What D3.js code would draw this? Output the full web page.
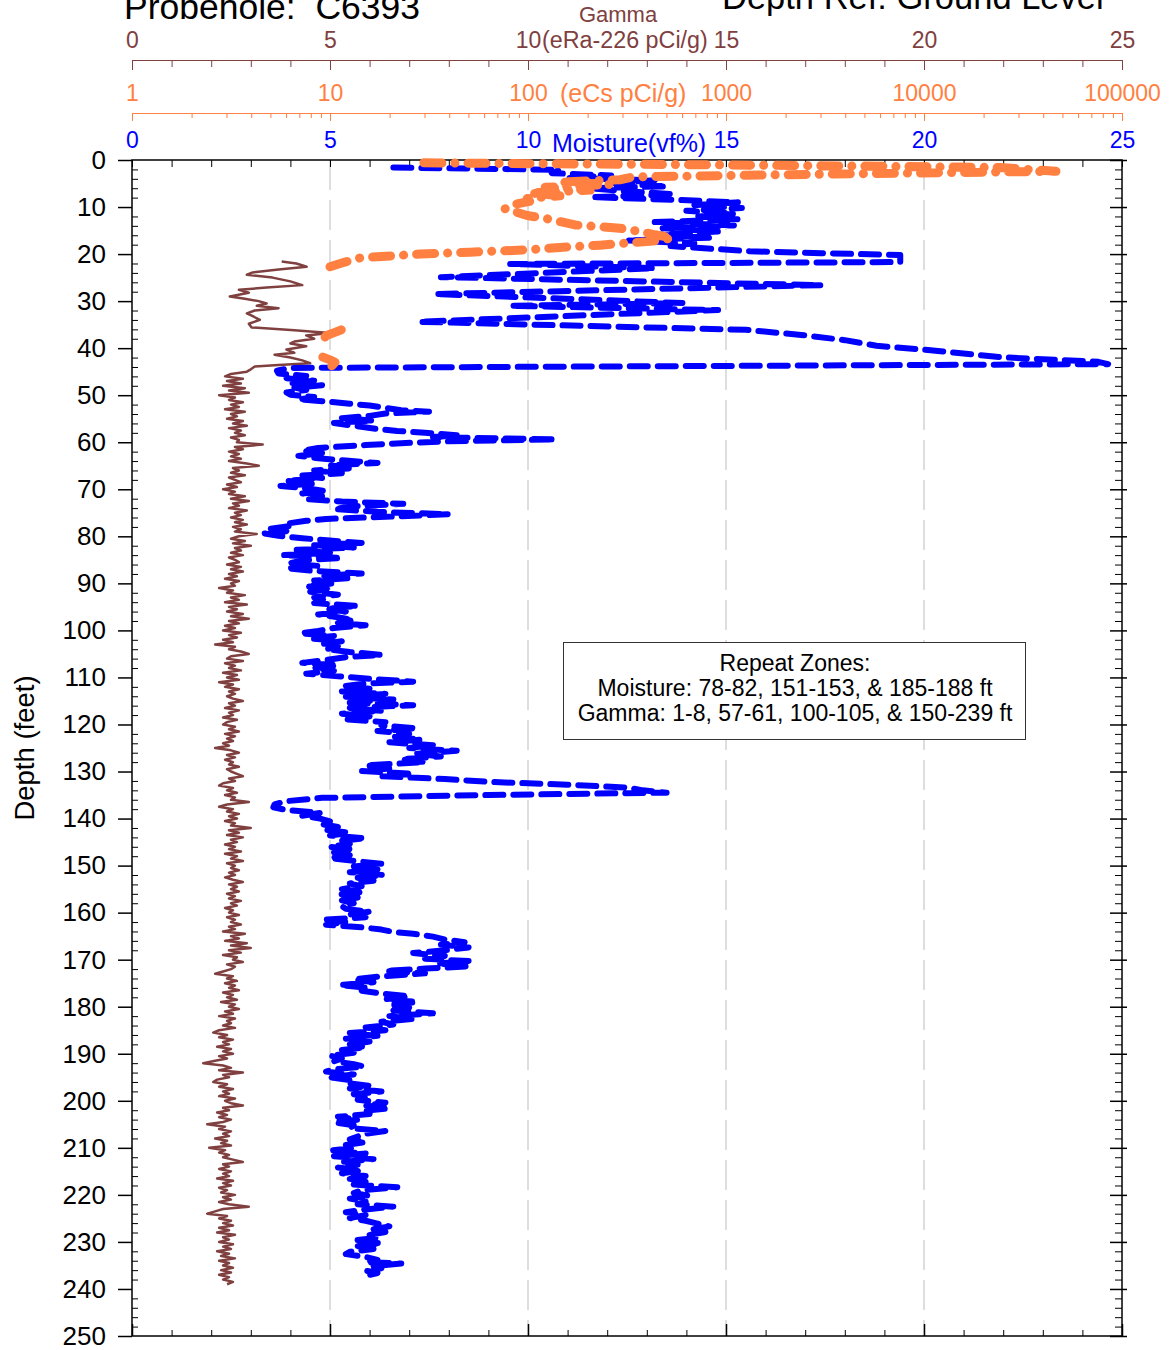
<!DOCTYPE html>
<html>
<head>
<meta charset="utf-8">
<script src="https://cdn.jsdelivr.net/npm/d3@7"></script>
<style>
body { margin: 0; background: #fff; }
svg { display: block; }
</style>
</head>
<body>
<script>

//****************************************************************************************************************************//
// Data  (depth in feet, value)

var moisture = [
	[1.6,6.6],[1.8,8.4],[2.1,10.8],[2.8,10.6],[3.3,12.1],[3.8,11.0],[4.3,13.2],[4.9,12.0],[5.6,13.5],[6.0,11.5],
	[6.7,12.6],[7.3,13.7],[7.9,11.6],[8.5,13.8],[9.0,15.3],[9.6,14.2],[10.2,15.4],[10.8,14.0],[11.4,15.2],[12.0,14.3],
	[12.6,15.3],[13.2,13.2],[13.9,15.2],[14.5,13.4],[15.2,14.8],[15.9,13.3],[16.5,14.6],[17.1,12.5],[17.7,14.2],[18.3,13.6],
	[18.9,14.7],[19.4,15.6],[19.8,17.4],[20.2,19.4],[21.7,19.4],[22.1,9.55],[23.0,13.2],[24.9,7.8],[26.6,17.4],[28.5,7.65],
	[30.4,13.9],[31.0,9.55],[31.9,14.8],[34.4,7.25],[36.1,15.5],[37.2,16.9],[38.3,18.0],[39.5,18.8],[40.4,20.1],[41.9,21.9],
	[42.9,24.4],[43.4,24.65],[44.2,4.0],[44.8,3.66],
	[45.4,3.7],[45.9,4.4],[46.4,3.9],[46.9,4.6],[47.4,4.0],[47.9,4.8],[48.4,4.1],[48.9,4.4],[49.4,3.9],[49.9,4.0],
	[50.4,4.6],[50.9,4.2],[51.4,5.0],[51.8,5.5],[52.2,6.0],[52.7,6.4],[53.2,6.8],[53.5,7.5],[53.9,6.4],[54.4,6.0],
	[54.9,5.3],[55.4,6.1],[55.9,5.1],[56.5,5.6],[57.2,6.2],[57.6,6.7],[58.0,7.4],[58.5,8.2],[58.9,7.6],[59.4,10.7],
	[59.8,8.0],[60.2,6.8],[60.6,5.9],[61.2,4.7],[61.8,4.3],[62.3,4.8],[62.9,4.2],[63.4,4.7],[63.9,5.4],[64.4,6.2],
	[64.9,5.0],[65.5,5.6],[66.0,4.6],[66.6,5.3],[67.1,4.2],[67.6,4.8],[68.2,3.9],[68.8,4.6],[69.3,3.75],[69.8,4.4],
	[70.4,4.9],[70.9,4.3],[71.5,4.8],[72.1,4.4],[72.6,5.3],[73.1,6.85],[73.6,5.6],[74.2,5.1],[74.8,6.2],[75.3,8.0],
	[75.8,6.6],[76.3,4.9],[76.7,4.4],[77.3,3.9],[77.8,4.0],[78.4,3.5],[78.9,3.9],[79.4,3.35],[79.9,3.7],[80.4,4.3],
	[80.9,5.0],[81.4,5.8],[81.9,4.6],[82.4,5.6],[82.9,4.1],[83.5,5.0],[84.0,3.8],[84.6,5.3],[85.1,4.3],[85.7,4.0],
	[86.3,4.7],[86.8,3.9],[87.3,4.5],[87.9,5.8],[88.4,4.8],[88.9,5.5],[89.4,4.6],[90.0,5.1],[90.6,4.4],[91.2,5.0],
	[91.8,4.5],[92.4,5.2],[93.0,4.6],[93.6,4.9],[94.2,4.6],[94.8,5.7],[95.4,4.9],[96.0,5.4],[96.6,4.7],[97.2,5.2],
	[97.8,5.6],[98.4,5.2],[98.9,5.9],[99.5,5.1],[100.1,4.7],[100.6,4.25],[101.2,5.1],[101.7,4.5],[102.3,5.3],[102.9,4.8],
	[103.4,5.2],[104.0,4.9],[104.6,5.5],[105.2,6.3],[105.7,5.4],[106.3,4.9],[106.9,4.3],[107.4,5.2],[108.0,4.6],[108.6,5.1],
	[109.2,4.4],[109.8,5.3],[110.4,6.2],[110.9,7.1],[111.3,5.9],[111.8,5.4],[112.4,6.0],[113.0,5.3],[113.5,6.4],[114.1,5.4],
	[114.7,6.6],[115.3,5.4],[115.9,7.1],[116.5,5.5],[117.1,6.3],[117.7,5.3],[118.3,6.0],[118.9,5.4],[119.5,6.4],[120.2,6.3],
	[120.8,7.2],[121.4,6.2],[122.0,7.0],[122.6,6.6],[123.2,7.3],[123.8,6.5],[124.4,7.6],[125.0,7.0],[125.6,8.2],[126.2,7.2],
	[126.8,7.8],[127.4,6.8],[128.0,7.4],[128.7,5.9],[129.3,6.6],[129.9,5.8],[130.5,7.1],[131.0,6.3],[131.6,7.9],[132.2,9.0],
	[132.8,11.0],[133.4,12.5],[134.0,12.9],[134.5,13.5],[135.0,9.0],[135.6,4.8],[136.3,3.9],[137.0,3.6],[137.6,3.57],[138.2,3.9],
	[138.8,4.75],[139.4,4.3],[140.0,4.75],[140.6,5.0],[141.2,4.8],[141.8,5.2],[142.4,4.9],[143.0,5.5],[143.6,5.0],[144.2,5.9],
	[144.8,5.2],[145.4,5.5],[146.0,5.0],[146.6,5.6],[147.2,5.1],[147.8,5.5],[148.4,5.0],[149.0,5.6],[149.6,6.3],[150.2,5.6],
	[150.8,6.2],[151.4,5.5],[152.0,6.35],[152.6,5.7],[153.2,6.1],[153.8,5.5],[154.4,5.8],[155.0,5.3],[155.6,5.8],[156.2,5.2],
	[156.8,5.7],[157.4,5.3],[158.0,5.6],[158.6,5.3],[159.2,5.4],[159.8,6.0],[160.4,5.5],[161.0,5.9],[161.5,4.8],[162.0,5.4],
	[162.6,4.9],[163.1,5.8],[163.6,6.3],[164.1,6.6],[164.5,7.1],[165.1,7.6],[165.7,7.9],[166.3,8.4],[166.8,7.8],[167.4,8.5],
	[168.0,7.9],[168.6,7.1],[169.2,7.9],[169.8,7.4],[170.3,8.5],[170.8,7.7],[171.4,8.5],[171.9,7.4],[172.4,6.4],[172.9,7.4],
	[173.6,6.2],[174.2,5.6],[174.8,6.1],[175.4,5.25],[176.0,6.0],[176.6,5.8],[177.2,6.3],[177.8,7.0],[178.4,6.4],[179.0,7.2],
	[179.6,6.5],[180.2,7.0],[180.8,6.6],[181.4,7.6],[182.0,6.5],[182.6,7.1],[183.2,6.3],[183.8,6.6],[184.4,5.9],[185.0,6.4],
	[185.6,5.5],[186.2,6.2],[186.8,5.4],[187.4,6.0],[188.0,5.5],[188.6,5.9],[189.2,5.3],[189.8,5.6],[190.4,5.0],[191.0,5.3],
	[191.6,5.1],[192.2,5.6],[192.7,5.85],[193.3,5.1],[193.8,4.9],[194.4,5.6],[195.0,5.0],[195.6,5.5],[196.2,5.4],[196.8,6.0],
	[197.4,5.5],[198.0,6.3],[198.6,5.6],[199.2,5.9],[199.8,5.7],[200.4,6.4],[201.0,5.9],[201.6,6.5],[202.2,5.8],[202.8,6.0],
	[203.4,5.2],[204.0,5.7],[204.6,5.1],[205.2,5.6],[205.8,5.5],[206.4,6.4],[207.0,5.9],[207.6,5.7],[208.2,5.5],[208.8,5.9],
	[209.4,5.4],[210.0,5.6],[210.6,5.0],[211.2,5.9],[211.8,5.1],[212.4,6.1],[213.0,5.3],[213.6,5.7],[214.2,5.2],[214.8,5.8],
	[215.4,5.3],[216.0,5.9],[216.6,5.5],[217.2,5.9],[217.8,5.6],[218.4,6.7],[219.0,5.8],[219.6,5.6],[220.2,6.0],[220.8,5.5],
	[221.4,5.9],[222.0,5.7],[222.5,6.6],[223.1,5.9],[223.7,5.4],[224.3,5.9],[224.9,5.5],[225.5,5.9],[226.1,6.2],[226.7,6.5],
	[227.3,6.1],[227.9,6.4],[228.5,6.0],[229.1,6.2],[229.7,5.6],[230.3,6.3],[230.9,5.7],[231.5,6.1],[232.1,5.5],[232.6,5.4],
	[233.2,5.9],[233.8,6.2],[234.3,5.9],[234.6,6.8],[235.1,6.1],[235.6,6.3],[236.1,5.9],[236.6,6.2],[237.0,6.0]
];

// eCs pCi/g, null = no detection (gap in the trace)
var cesium = [
	[0.6,29.8],[0.8,120],[1.0,740],[1.3,5000],[1.6,24200],[2.4,46400],[2.8,7560],[3.2,1485],[3.6,339],[4.2,291],
	[4.7,145],[5.2,259],[5.8,122],[6.4,206],[7.0,102],[7.6,145],[8.2,99],[8.8,102],[9.6,81],[10.4,76.5],
	[11.0,85.8],[11.8,99],[12.4,122],[13.1,145],[13.8,173],[14.5,291],[15.2,368],[15.9,438],[16.6,539],[17.3,413],
	[18.1,231],[18.6,145],[19.1,99],[19.6,51],[20.0,28.5],[20.8,14.2],[21.7,11.9],[22.7,10.0],
	null,
	[36.1,11.4],[36.7,10.5],[37.3,9.6],[38.0,9.3],
	null,
	[41.9,9.2],[42.5,10.0],[43.0,10.6],[43.6,10.3],[44.2,10.0]
];

// eRa-226 pCi/g, upper hole read point by point
var gammaTop = [
	[21.6,3.78],[22.0,4.15],[22.7,4.41],[23.3,3.7],[23.9,3.05],[24.4,2.9],[25.0,3.55],[25.8,4.0],[26.6,4.3],[27.1,3.4],
	[27.6,2.7],[28.2,2.95],[29.0,2.47],[29.5,2.85],[30.0,3.2],[30.5,3.4],[31.0,3.15],[31.5,3.7],[32.0,3.1],[32.6,2.9],
	[33.2,3.05],[34.0,3.23],[34.8,2.95],[35.6,3.02],[36.2,4.1],[36.8,5.0],[37.3,4.4],[38.0,4.6],[38.6,4.1],[39.0,4.0],
	[39.6,4.4],[40.3,3.9],[41.0,4.1],[41.4,3.6],[42.0,4.0],[42.6,4.3],[43.2,4.5],[43.6,3.7],[43.9,3.1],[44.5,3.0],
	[45.0,2.9],[45.5,2.5]
];

// eRa-226 pCi/g, every half foot from 46 ft down to 239 ft
var gammaLowStart = 46;
var gammaLowStep = 0.5;
var gammaLow = [
	2.35,2.8,2.4,2.75,2.3,2.85,2.45,2.95,2.2,2.6,
	2.45,2.8,2.5,2.7,2.35,2.85,2.5,2.65,2.4,2.8,
	2.55,2.9,2.45,2.75,2.6,2.85,2.5,2.7,2.65,3.3,
	2.6,2.8,2.45,2.7,2.5,2.75,2.45,2.9,3.2,2.55,
	2.7,2.5,2.85,2.45,2.6,2.75,2.4,2.65,2.3,2.6,
	2.45,2.85,2.5,2.95,2.55,2.7,2.45,2.9,2.6,2.75,
	2.5,2.8,2.6,2.9,2.55,2.75,2.6,3.15,2.7,2.5,
	2.85,2.55,3.0,2.6,2.75,2.5,2.8,2.45,2.6,2.7,
	2.4,2.75,2.5,2.8,2.45,2.65,2.35,2.7,2.5,2.6,
	2.2,2.55,2.4,2.85,2.5,2.7,2.35,2.9,2.45,2.65,
	2.4,2.8,2.5,2.95,2.45,2.7,2.35,2.6,2.3,2.75,
	2.45,2.65,2.3,2.55,2.1,2.6,2.45,2.75,2.95,2.5,
	2.4,2.8,2.35,2.6,2.45,2.75,2.3,2.65,2.4,2.7,
	2.2,2.55,2.35,2.7,2.45,2.6,2.4,2.55,2.8,2.45,
	2.6,2.35,2.7,2.45,2.55,2.3,2.65,2.4,2.3,2.6,
	2.45,2.7,2.35,2.6,2.4,2.55,2.3,2.45,2.1,2.5,
	2.7,2.4,2.6,2.35,2.55,2.45,2.7,2.4,2.5,2.65,
	2.8,2.45,2.6,2.3,2.2,2.55,2.4,2.65,2.35,2.6,
	2.5,2.95,2.4,2.2,2.55,2.4,2.7,2.45,2.65,2.35,
	2.6,2.5,3.0,2.45,2.7,2.4,2.8,2.5,2.65,2.35,
	2.6,2.45,2.75,2.35,2.65,2.5,2.8,2.4,2.6,2.5,
	2.7,2.45,2.6,2.35,2.55,2.8,2.45,2.65,2.5,2.7,
	2.4,2.6,2.45,2.75,2.5,2.65,2.35,2.55,2.45,2.7,
	2.4,2.6,2.5,2.75,2.45,2.6,2.3,2.85,2.5,2.7,
	2.35,2.9,2.5,3.0,2.45,2.75,2.3,2.65,2.55,2.8,
	2.4,2.6,2.5,2.3,2.1,2.55,2.4,2.65,2.35,2.6,
	2.45,2.7,2.3,2.55,2.4,2.65,2.25,2.6,2.45,2.7,
	2.35,2.55,2.2,2.6,2.4,2.5,2.3,2.6,2.2,2.05,
	2.4,2.2,2.55,2.3,2.45,2.15,2.5,2.3,2.55,2.2,
	2.4,2.1,1.8,2.3,2.5,2.2,2.8,2.3,2.45,2.15,
	2.05,2.4,2.2,2.55,2.3,2.45,2.2,2.6,2.35,2.5,
	2.8,2.3,2.45,2.15,2.4,2.2,2.5,2.3,1.9,2.35,
	2.2,2.5,2.3,2.45,2.1,2.4,2.25,2.5,1.95,2.35,
	2.2,2.45,2.3,2.55,2.8,2.3,2.45,2.2,2.5,2.3,
	2.45,2.15,2.55,2.3,2.5,2.2,2.4,2.25,2.6,2.3,
	2.5,2.2,2.45,2.95,2.3,2.1,1.9,2.4,2.2,2.5,
	2.3,2.55,2.2,2.45,2.15,2.6,2.3,2.45,2.2,2.55,
	2.3,2.5,2.15,2.45,2.25,2.6,2.2,2.45,2.3,2.55,
	2.25,2.5,2.2,2.45,2.3,2.55,2.4
];

// axis ticks
var linearTicks = d3.range(0, 26);
var linearLabels = [0, 5, 10, 15, 20, 25];
var cesiumLabels = [1, 10, 100, 1000, 10000, 100000];
var depthLabels = d3.range(0, 251, 10);
var depthMinor = d3.range(0, 251, 2).filter(function(d){ return d % 10 != 0; });
var gridValues = [5, 10, 15, 20];

var repeatZones = [
	"Repeat Zones:",
	"Moisture: 78-82, 151-153, & 185-188 ft",
	"Gamma: 1-8, 57-61, 100-105, & 150-239 ft"
];

//****************************************************************************************************************************//
// Canvas & Scales

var width = 1169, height = 1350;
var plot = { left : 132, right : 1122, top : 160, bottom : 1336 };

var colBlue = "#0000ff", colOrange = "#ff8040", colBrown = "#804040";
var tickFont = "23px";

var canvas = d3.select("body").append("svg")
				.attr("width", width)
				.attr("height", height)
				.style("font-family", "'Liberation Sans', Arial, sans-serif");

var x = d3.scaleLinear().domain([0, 25]).range([plot.left, plot.right]);
var xCs = d3.scaleLog().domain([1, 100000]).range([plot.left, plot.right]);
var y = d3.scaleLinear().domain([0, 250]).range([plot.top, plot.bottom]);

function cleanAxis(g, colour){
	g.attr("font-family", null).attr("font-size", null).attr("color", colour);
}

//****************************************************************************************************************************//
// Grid

canvas.append("g")
	.selectAll("line")
	.data(gridValues)
	.join("line")
		.attr("x1", function(d){ return x(d); })
		.attr("x2", function(d){ return x(d); })
		.attr("y1", plot.top)
		.attr("y2", plot.bottom)
		.attr("stroke", "#bdbdbd")
		.attr("stroke-width", 1)
		.attr("stroke-dasharray", "30,10");

//****************************************************************************************************************************//
// Frame & depth axes

canvas.append("rect")
	.attr("x", plot.left)
	.attr("y", plot.top)
	.attr("width", plot.right - plot.left)
	.attr("height", plot.bottom - plot.top)
	.attr("fill", "none")
	.attr("stroke", "#000")
	.attr("stroke-width", 1.5);

var leftMajor = canvas.append("g")
	.attr("transform", "translate(" + plot.left + ",0)")
	.call(d3.axisLeft(y).tickValues(depthLabels).tickSize(14).tickPadding(12).tickSizeOuter(0));
cleanAxis(leftMajor, "#000");
leftMajor.select(".domain").remove();
leftMajor.selectAll("line").attr("stroke-width", 1.5);
leftMajor.selectAll("text").style("font-size", "26px");

var leftMinor = canvas.append("g")
	.attr("transform", "translate(" + plot.left + ",0)")
	.call(d3.axisRight(y).tickValues(depthMinor).tickSize(6).tickFormat("").tickSizeOuter(0));
cleanAxis(leftMinor, "#000");
leftMinor.select(".domain").remove();

var rightMajor = canvas.append("g")
	.attr("transform", "translate(" + plot.right + ",0)")
	.call(d3.axisLeft(y).tickValues(depthLabels).tickSize(12).tickFormat("").tickSizeOuter(0));
cleanAxis(rightMajor, "#000");
rightMajor.select(".domain").remove();
rightMajor.selectAll("line").attr("x2", -12).attr("x1", 5).attr("stroke-width", 1.5);

var rightMinor = canvas.append("g")
	.attr("transform", "translate(" + plot.right + ",0)")
	.call(d3.axisLeft(y).tickValues(depthMinor).tickSize(7).tickFormat("").tickSizeOuter(0));
cleanAxis(rightMinor, "#000");
rightMinor.select(".domain").remove();

var topTicks = canvas.append("g")
	.attr("transform", "translate(0," + plot.top + ")")
	.call(d3.axisBottom(x).tickValues(linearTicks).tickSize(7).tickFormat("").tickSizeOuter(0));
cleanAxis(topTicks, "#000");
topTicks.select(".domain").remove();

var bottomMinor = canvas.append("g")
	.attr("transform", "translate(0," + plot.bottom + ")")
	.call(d3.axisTop(x).tickValues(linearTicks.filter(function(d){ return d % 5 != 0; })).tickSize(6).tickFormat("").tickSizeOuter(0));
cleanAxis(bottomMinor, "#000");
bottomMinor.select(".domain").remove();

var bottomMajor = canvas.append("g")
	.attr("transform", "translate(0," + plot.bottom + ")")
	.call(d3.axisTop(x).tickValues(linearLabels).tickSize(12).tickFormat("").tickSizeOuter(0));
cleanAxis(bottomMajor, "#000");
bottomMajor.select(".domain").remove();
bottomMajor.selectAll("line").attr("stroke-width", 1.5);

canvas.append("text")
	.attr("transform", "translate(34," + ((plot.top + plot.bottom) / 2) + ") rotate(-90)")
	.attr("text-anchor", "middle")
	.style("font-size", "27.5px")
	.text("Depth (feet)");

//****************************************************************************************************************************//
// Top axes: Gamma, eCs, Moisture

var gammaAxisY = 60, cesiumAxisY = 113;

var gammaTicks = canvas.append("g")
	.attr("transform", "translate(0," + gammaAxisY + ")")
	.call(d3.axisBottom(x).tickValues(linearTicks).tickSize(7).tickFormat("").tickSizeOuter(0));
cleanAxis(gammaTicks, colBrown);
gammaTicks.selectAll(".tick line").filter(function(d){ return d % 5 == 0; }).attr("y2", 10);

var gammaText = canvas.append("g")
	.attr("transform", "translate(0," + gammaAxisY + ")")
	.call(d3.axisTop(x).tickValues(linearLabels).tickSize(0).tickPadding(12));
cleanAxis(gammaText, colBrown);
gammaText.select(".domain").remove();
gammaText.selectAll("text").style("font-size", tickFont);

canvas.append("text")
	.attr("x", 618)
	.attr("y", 22)
	.attr("text-anchor", "middle")
	.attr("fill", colBrown)
	.style("font-size", "22px")
	.text("Gamma");

canvas.append("text")
	.attr("x", 542)
	.attr("y", 48)
	.attr("fill", colBrown)
	.style("font-size", "23.3px")
	.text("(eRa-226 pCi/g)");

var cesiumTickValues = [];
cesiumLabels.forEach(function(dec){
	if (dec < 100000) d3.range(1, 10).forEach(function(m){ cesiumTickValues.push(dec * m); });
});
cesiumTickValues.push(100000);

var cesiumTicks = canvas.append("g")
	.attr("transform", "translate(0," + cesiumAxisY + ")")
	.call(d3.axisBottom(xCs).tickValues(cesiumTickValues).tickSize(5).tickFormat("").tickSizeOuter(0));
cleanAxis(cesiumTicks, colOrange);
cesiumTicks.selectAll(".tick line").filter(function(d){ return cesiumLabels.indexOf(d) >= 0; }).attr("y2", 8);

var cesiumText = canvas.append("g")
	.attr("transform", "translate(0," + cesiumAxisY + ")")
	.call(d3.axisTop(xCs).tickValues(cesiumLabels).tickSize(0).tickPadding(12).tickFormat(d3.format("d")));
cleanAxis(cesiumText, colOrange);
cesiumText.select(".domain").remove();
cesiumText.selectAll("text").style("font-size", tickFont);

canvas.append("text")
	.attr("x", 560)
	.attr("y", 102)
	.attr("fill", colOrange)
	.style("font-size", "25px")
	.text("(eCs pCi/g)");

var moistText = canvas.append("g")
	.attr("transform", "translate(0," + plot.top + ")")
	.call(d3.axisTop(x).tickValues(linearLabels).tickSize(0).tickPadding(12));
cleanAxis(moistText, colBlue);
moistText.select(".domain").remove();
moistText.selectAll("text").style("font-size", tickFont);

canvas.append("text")
	.attr("x", 552)
	.attr("y", 152)
	.attr("fill", colBlue)
	.style("font-size", "25px")
	.text("Moisture(vf%)");

//****************************************************************************************************************************//
// Titles

canvas.append("text")
	.attr("x", 124)
	.attr("y", 19)
	.style("font-size", "35.5px")
	.style("white-space", "pre")
	.text("Probehole:  C6393");

canvas.append("text")
	.attr("x", 722)
	.attr("y", 9)
	.style("font-size", "34.5px")
	.text("Depth Ref: Ground Level");

//****************************************************************************************************************************//
// Logs

var gammaData = gammaTop.concat(gammaLow.map(function(v, i){ return [gammaLowStart + i * gammaLowStep, v]; }));

var linearLine = d3.line()
	.x(function(d){ return x(d[1]); })
	.y(function(d){ return y(d[0]); });

var cesiumLine = d3.line()
	.defined(function(d){ return d !== null; })
	.x(function(d){ return xCs(d[1]); })
	.y(function(d){ return y(d[0]); });

canvas.append("path")
	.datum(gammaData)
	.attr("d", linearLine)
	.attr("fill", "none")
	.attr("stroke", colBrown)
	.attr("stroke-width", 2.5)
	.attr("stroke-linejoin", "round");

canvas.append("path")
	.datum(moisture)
	.attr("d", linearLine)
	.attr("fill", "none")
	.attr("stroke", colBlue)
	.attr("stroke-width", 6)
	.attr("stroke-linecap", "round")
	.attr("stroke-linejoin", "round")
	.attr("stroke-dasharray", "18,10");

canvas.append("path")
	.datum(cesium)
	.attr("d", cesiumLine)
	.attr("fill", "none")
	.attr("stroke", colOrange)
	.attr("stroke-width", 9)
	.attr("stroke-linecap", "round")
	.attr("stroke-linejoin", "round")
	.attr("stroke-dasharray", "18,13,0.1,13");

//****************************************************************************************************************************//
// Repeat zones note

var note = canvas.append("g");

note.append("rect")
	.attr("x", 563.5)
	.attr("y", 642.5)
	.attr("width", 462)
	.attr("height", 97)
	.attr("fill", "#fff")
	.attr("stroke", "#333")
	.attr("stroke-width", 1);

note.selectAll("text")
	.data(repeatZones)
	.join("text")
		.attr("x", 795)
		.attr("y", function(d, i){ return 671 + i * 25; })
		.attr("text-anchor", "middle")
		.style("font-size", "23px")
		.text(function(d){ return d; });

</script>
</body>
</html>
